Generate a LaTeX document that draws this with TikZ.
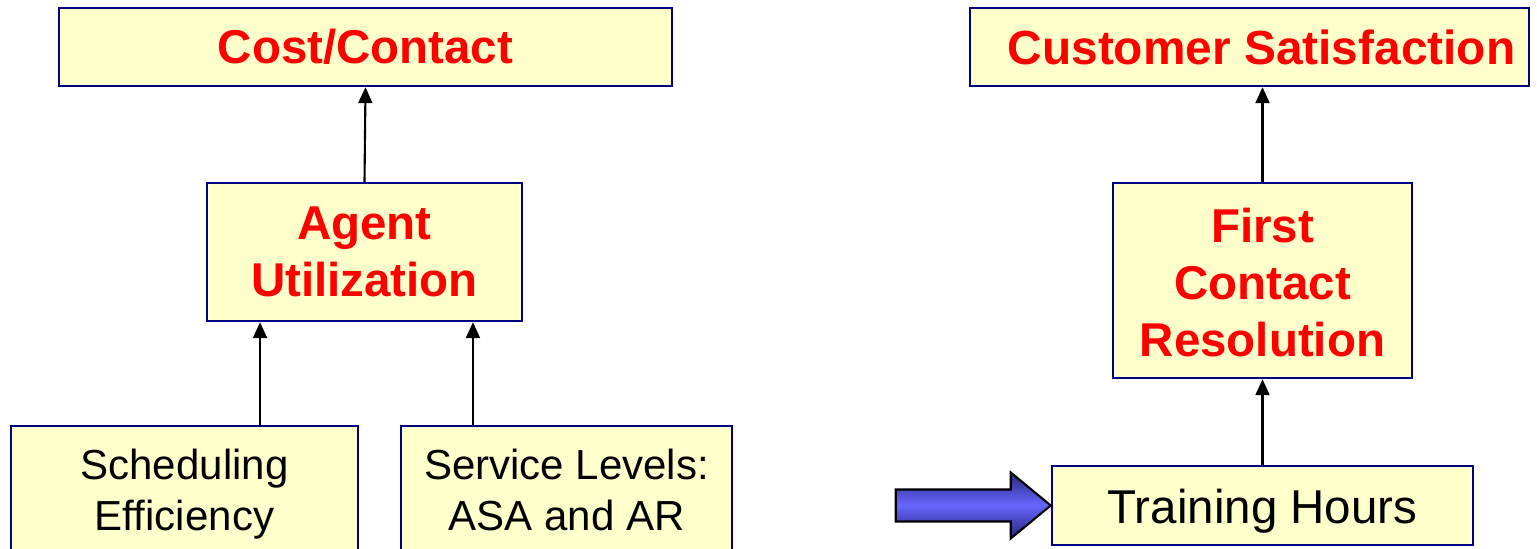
\documentclass[tikz,border=0pt]{standalone}
\usepackage{fontspec}
\setmainfont{Liberation Sans}
\usetikzlibrary{arrows.meta}
\definecolor{boxfill}{HTML}{FFFFCC}
\definecolor{boxline}{HTML}{000080}
\definecolor{title}{HTML}{FF0000}
\definecolor{pushlight}{HTML}{6666FF}
\definecolor{pushdark}{HTML}{26267A}
\tikzset{
  box/.style={draw=boxline, fill=boxfill, line width=0.65pt, inner sep=0pt, align=center},
  kpi/.style={box, text=title, font=\fontsize{13.5}{16.2}\selectfont\bfseries},
  driver/.style={box, text=black, font=\fontsize{11.95}{14.5}\selectfont},
  link/.style={draw=black, line width=0.6pt, -{Triangle[length=0.16cm,width=0.14cm]}},
}
\begin{document}
\begin{tikzpicture}[x=0.01cm, y=-0.01cm]
\clip (0,0) rectangle (1537,549);
\fill[white] (0,0) rectangle (1537,549);

% cost side
\node[kpi, minimum width=6.13cm, minimum height=0.78cm] (cost) at (365.5,47) {Cost/Contact};
\node[kpi, minimum width=3.15cm, minimum height=1.38cm] (agent) at (364.5,252) {Agent\\Utilization};
\node[driver, minimum width=3.47cm, minimum height=1.36cm] (sched) at (184.5,494) {Scheduling\\Efficiency};
\node[driver, minimum width=3.31cm, minimum height=1.28cm] (serv) at (566.5,490) {Service Levels:\\ASA and AR};

% satisfaction side
\node[kpi, font=\fontsize{13.6}{16.3}\selectfont\bfseries, minimum width=5.59cm, minimum height=0.78cm] (cust) at (1249.5,47) {\hspace*{0.24cm}Customer Satisfaction};
\node[kpi, minimum width=2.99cm, minimum height=1.95cm] (fcr) at (1262.5,280.5) {\rule{0pt}{11.2pt}First\\Contact\\Resolution};
\node[driver, font=\fontsize{13.5}{16.2}\selectfont, text height=11.5pt, text depth=1.2pt, minimum width=4.21cm, minimum height=0.79cm] (train) at (1262.5,505.5) {Training Hours};

% connectors
\draw[link] (agent.north) -- (cost.south);
\draw[link] ([xshift=0.755cm]sched.north) -- ([xshift=0.755cm]sched.north |- agent.south);
\draw[link] ([xshift=-0.935cm]serv.north) -- ([xshift=-0.935cm]serv.north |- agent.south);
\draw[link] (fcr.north) -- (fcr.north |- cust.south);
\draw[link] (train.north) -- (fcr.south);

% block arrow pointing at the training box, shaded dark-light-dark
\coordinate (tip) at (train.west);
\begin{scope}
  \clip (tip) -- ++(-40,-33) -- ++(0,17) -- ++(-115,0) -- ++(0,32) -- ++(115,0) -- ++(0,17) -- cycle;
  \foreach \i in {0,...,66} {
    \pgfmathsetmacro\m{100-100*abs(\i-33)/33}
    \fill[pushlight!\m!pushdark] (tip) ++(-160,\i-33.5) rectangle ++(170,1.4);
  }
\end{scope}
\draw[black, line width=0.6pt, line join=miter]
  (tip) -- ++(-40,-33) -- ++(0,17) -- ++(-115,0) -- ++(0,32) -- ++(115,0) -- ++(0,17) -- cycle;
\end{tikzpicture}
\end{document}
